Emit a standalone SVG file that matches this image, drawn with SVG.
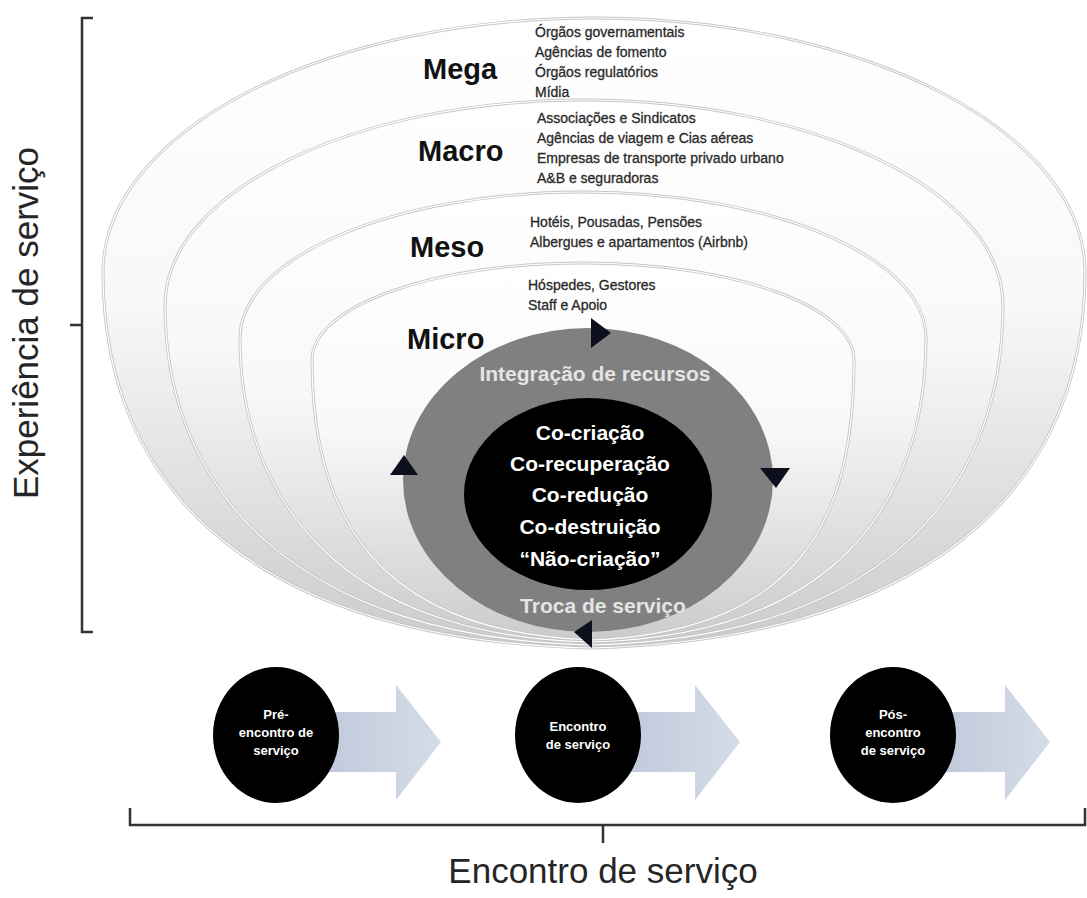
<svg xmlns="http://www.w3.org/2000/svg" width="1087" height="898" viewBox="0 0 1087 898">
<defs>
<linearGradient id="layerGrad" x1="0" y1="0" x2="0" y2="1">
<stop offset="0" stop-color="#ffffff"/>
<stop offset="0.45" stop-color="#f8f8f8"/>
<stop offset="1" stop-color="#cbcbcb"/>
</linearGradient>
<linearGradient id="arrowGrad" x1="0" y1="0" x2="1" y2="0">
<stop offset="0" stop-color="#bfc9da"/>
<stop offset="1" stop-color="#d5dce8"/>
</linearGradient>
<path id="pMega" d="M103,272 C103,132 323,18 594,18 C865,18 1085,132 1085,272 C1085,502 910,640 590,648 C270,640 103,502 103,272 Z"/>
<path id="pMacro" d="M165,305 C165,192 353,100 584,100 C815,100 1003,192 1003,305 C1003,495 880,638 590,645 C300,638 165,495 165,305 Z"/>
<path id="pMeso" d="M240,338 C240,257 394,192 583,192 C772,192 926,257 926,338 C926,498 840,636 590,642 C340,636 240,498 240,338 Z"/>
<path id="pMicro" d="M312,360 C312,306 433,263 583,263 C733,263 854,306 854,360 C854,520 800,632 590,640 C380,632 312,520 312,360 Z"/>
<style>
.layer{fill:url(#layerGrad);stroke:#c6c6c6;stroke-width:3}
.edge{fill:none;stroke:#ffffff;stroke-width:1.2}
.lvl{font-family:"Liberation Sans",Arial,sans-serif;font-weight:bold;font-size:29px;fill:#111}
.item{font-family:"Liberation Sans",Arial,sans-serif;font-size:14px;fill:#2a2a2a;stroke:#2a2a2a;stroke-width:0.3}
.core{font-family:"Liberation Sans",Arial,sans-serif;font-weight:bold;font-size:21px;fill:#ffffff;text-anchor:middle}
.ring{font-family:"Liberation Sans",Arial,sans-serif;font-weight:bold;font-size:21px;fill:#e4e4e4;text-anchor:middle}
.phase{font-family:"Liberation Sans",Arial,sans-serif;font-weight:bold;font-size:13px;fill:#ffffff;text-anchor:middle}
.big{font-family:"Liberation Sans",Arial,sans-serif;font-size:35px;fill:#262626;text-anchor:middle}
.brk{fill:none;stroke:#333;stroke-width:2.5}
.tri{fill:#0e0f1c}
.blk{fill:url(#arrowGrad)}
</style>
</defs>
<rect width="1087" height="898" fill="#ffffff"/>

<g id="bracket-left">
<path class="brk" d="M93,18 H82 V632 H93 M82,325 H70"/>
</g>
<text class="big" transform="translate(38,323) rotate(-90)" x="0" y="0">Experiência de serviço</text>

<g id="mega">
<use href="#pMega" class="layer"/>
<use href="#pMega" class="edge"/>
<text class="lvl" x="423" y="79">Mega</text>
<text class="item" x="535" y="37">Órgãos governamentais</text>
<text class="item" x="535" y="57">Agências de fomento</text>
<text class="item" x="535" y="77">Órgãos regulatórios</text>
<text class="item" x="535" y="97">Mídia</text>
</g>

<g id="macro">
<use href="#pMacro" class="layer"/>
<use href="#pMacro" class="edge"/>
<text class="lvl" x="418" y="161">Macro</text>
<text class="item" x="537" y="123">Associações e Sindicatos</text>
<text class="item" x="537" y="143">Agências de viagem e Cias aéreas</text>
<text class="item" x="537" y="163">Empresas de transporte privado urbano</text>
<text class="item" x="537" y="183">A&amp;B e seguradoras</text>
</g>

<g id="meso">
<use href="#pMeso" class="layer"/>
<use href="#pMeso" class="edge"/>
<text class="lvl" x="410" y="257">Meso</text>
<text class="item" x="530" y="227">Hotéis, Pousadas, Pensões</text>
<text class="item" x="530" y="247">Albergues e apartamentos (Airbnb)</text>
</g>

<g id="micro">
<use href="#pMicro" class="layer"/>
<use href="#pMicro" class="edge"/>
<text class="lvl" x="407" y="349">Micro</text>
<text class="item" x="528" y="290">Hóspedes, Gestores</text>
<text class="item" x="528" y="310">Staff e Apoio</text>
</g>

<g id="integracao-ring">
<ellipse cx="588" cy="480" rx="185" ry="152" fill="#808080"/>
<text class="ring" x="595" y="381">Integração de recursos</text>
<text class="ring" x="603" y="613" font-size="18">Troca de serviço</text>
</g>

<g id="core">
<ellipse cx="588" cy="494" rx="124" ry="96" fill="#000000"/>
<text class="core" x="590" y="440">Co-criação</text>
<text class="core" x="590" y="471">Co-recuperação</text>
<text class="core" x="590" y="502">Co-redução</text>
<text class="core" x="590" y="534">Co-destruição</text>
<text class="core" x="590" y="566">“Não-criação”</text>
</g>

<g id="connectors">
<polygon class="tri" points="591,318 611,333 591,348"/>
<polygon class="tri" points="760,468 790,468 776,488"/>
<polygon class="tri" points="592,620 574,632 592,648"/>
<polygon class="tri" points="390,475 404,455 418,475"/>
<polygon class="blk" points="320,712 396,712 396,685 441,742 396,800 396,772 320,772"/>
<polygon class="blk" points="622,712 695,712 695,685 740,742 695,800 695,772 622,772"/>
<polygon class="blk" points="937,712 1005,712 1005,685 1050,742 1005,800 1005,772 937,772"/>
</g>

<g id="pre-encontro">
<ellipse cx="276" cy="735" rx="63" ry="68" fill="#000"/>
<text class="phase" x="276" y="719">Pré-</text>
<text class="phase" x="276" y="737">encontro de</text>
<text class="phase" x="276" y="755">serviço</text>
</g>

<g id="encontro">
<ellipse cx="578" cy="735" rx="63" ry="68" fill="#000"/>
<text class="phase" x="578" y="731">Encontro</text>
<text class="phase" x="578" y="749">de serviço</text>
</g>

<g id="pos-encontro">
<ellipse cx="893" cy="735" rx="63" ry="68" fill="#000"/>
<text class="phase" x="893" y="719">Pós-</text>
<text class="phase" x="893" y="737">encontro</text>
<text class="phase" x="893" y="755">de serviço</text>
</g>

<g id="bracket-bottom">
<path class="brk" d="M130,808 V825 H1085 V808 M603,825 V843"/>
</g>
<text class="big" x="603" y="883">Encontro de serviço</text>
</svg>
